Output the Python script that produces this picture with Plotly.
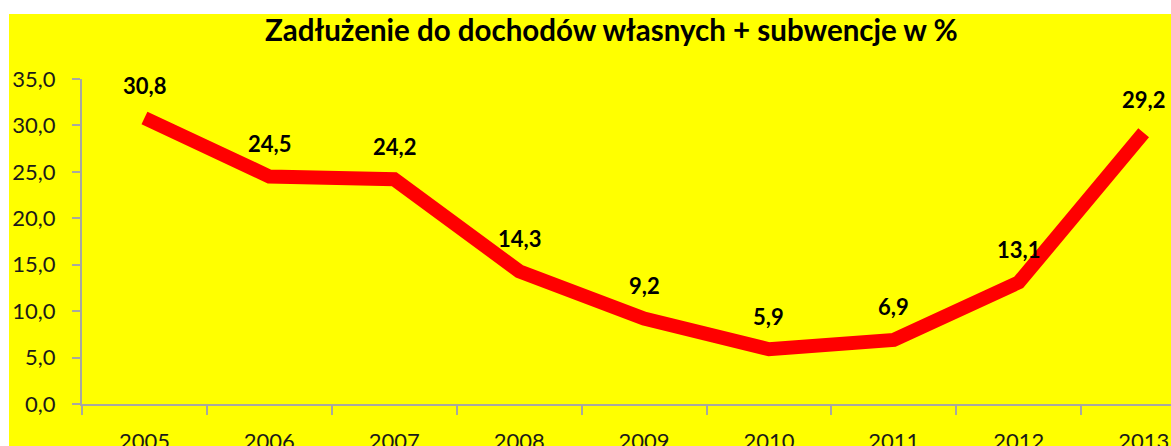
import plotly.graph_objects as go

years = ["2005", "2006", "2007", "2008", "2009", "2010", "2011", "2012", "2013"]
values = [30.8, 24.5, 24.2, 14.3, 9.2, 5.9, 6.9, 13.1, 29.2]
y_ticks = [0, 5, 10, 15, 20, 25, 30, 35]
title_text = "Zadłużenie do dochodów własnych + subwencje w %"

FONT = "Lato"
W, H = 1171, 446
ML, MR, MT = 82, 0, 79
AX_Y = 404
MB = H - AX_Y
plot_w = W - ML - MR
plot_h = H - MT - MB
band = 124.9

fig = go.Figure()
fig.add_trace(go.Scatter(
    x=years, y=values, mode="lines",
    line=dict(color="#ff0000", width=14),
    cliponaxis=False, hoverinfo="skip", showlegend=False,
))

for i, v in enumerate(values):
    fig.add_annotation(
        x=i, y=v, text="<b>" + f"{v:.1f}".replace(".", ",") + "</b>",
        showarrow=False, yshift=33, yanchor="middle",
        font=dict(family=FONT, size=22, color="#000000"),
    )

fig.add_annotation(
    xref="paper", yref="paper", x=(611 - ML) / plot_w, y=(AX_Y - 29) / plot_h,
    text="<b>" + title_text + "</b>", showarrow=False,
    xanchor="center", yanchor="middle",
    font=dict(family=FONT, size=29.5, color="#000000"),
)

# yellow chart area with white border at top/left
fig.add_shape(
    type="rect", xref="paper", yref="paper", layer="below",
    x0=(9 - ML) / plot_w, x1=1.05,
    y0=-0.3, y1=(AX_Y - 14) / plot_h,
    fillcolor="#ffff00", line=dict(width=0),
)

fig.update_layout(
    width=W, height=H,
    margin=dict(l=ML, r=MR, t=MT, b=MB, pad=0),
    paper_bgcolor="#ffffff", plot_bgcolor="rgba(0,0,0,0)",
    separators=", ",
    font=dict(family=FONT, color="#000000"),
)
fig.update_xaxes(
    type="category", range=[-0.5, -0.5 + plot_w / band],
    showgrid=False, zeroline=False, automargin=False,
    showline=True, linecolor="#a8a8a0", linewidth=2,
    ticks="outside", tickson="boundaries", ticklen=9, tickwidth=2, tickcolor="#a8a8a0",
    tickfont=dict(family=FONT, size=22, color="#1a1a1a"),
    ticklabelstandoff=17,
)
fig.update_yaxes(
    range=[0, 35], tickvals=y_ticks, tickformat=".1f",
    showgrid=False, zeroline=False, automargin=False,
    showline=True, linecolor="#a8a8a0", linewidth=2,
    ticks="outside", ticklen=8, tickwidth=2, tickcolor="#a8a8a0",
    tickfont=dict(family=FONT, size=22, color="#1a1a1a"),
    ticklabelstandoff=12,
)

fig.write_html(
    "out.html",
    config={"displayModeBar": False},
    post_script="document.body.style.margin='0';document.body.style.overflow='hidden';",
)
